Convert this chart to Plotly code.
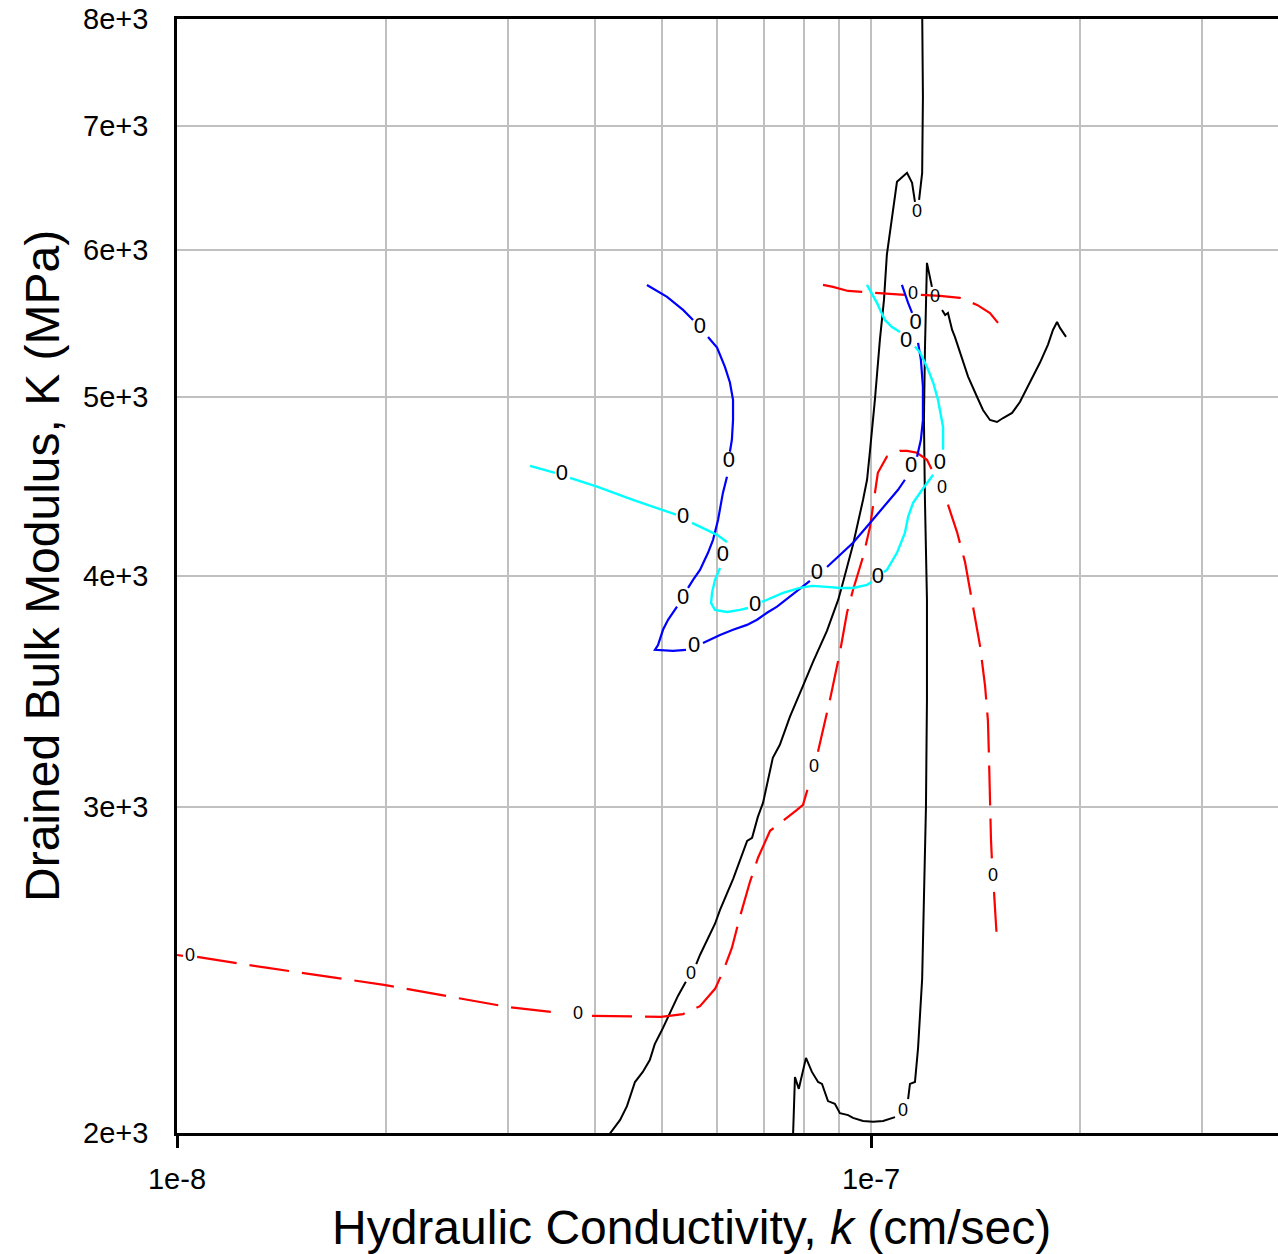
import plotly.graph_objects as go

# ---------------- data (k in cm/sec, K in MPa) ----------------
black_a_k = [4.17e-8, 4.35e-8, 4.45e-8, 4.57e-8, 4.69e-8, 4.80e-8, 4.88e-8, 5.00e-8, 5.27e-8, 5.41e-8, None,
             5.60e-8, 5.67e-8, 5.96e-8, 6.06e-8, 6.33e-8, 6.63e-8, 6.74e-8, 6.87e-8, 6.99e-8, 7.22e-8,
             7.39e-8, 7.64e-8, 7.98e-8, 8.25e-8, 8.64e-8, 8.97e-8, 9.11e-8, 9.42e-8, 9.74e-8, 9.87e-8,
             9.97e-8, 1.013e-7, 1.030e-7, 1.044e-7, 1.054e-7, 1.090e-7, 1.127e-7, 1.146e-7, 1.157e-7, None,
             1.173e-7, 1.185e-7, 1.188e-7, 1.185e-7]
black_a_K = [1990, 2033, 2068, 2131, 2158, 2190, 2234, 2274, 2372, 2414, None,
             2468, 2496, 2595, 2640, 2744, 2877, 2888, 2964, 3017, 3190,
             3242, 3357, 3489, 3595, 3736, 3884, 3967, 4159, 4398, 4509,
             4680, 4980, 5368, 5640, 5965, 6533, 6606, 6525, 6372, None,
             6388, 6606, 7262, 8100]

black_b_k = [7.72e-8, 7.77e-8, 7.87e-8, 8.06e-8, 8.22e-8, 8.39e-8, 8.50e-8, 8.67e-8, 8.87e-8, 9.02e-8,
             9.27e-8, 9.42e-8, 9.74e-8, 1.007e-7, 1.041e-7, 1.083e-7, None,
             1.131e-7, 1.138e-7, 1.157e-7, 1.169e-7, 1.185e-7, 1.192e-7, 1.200e-7, 1.204e-7, 1.204e-7,
             1.196e-7, 1.192e-7, 1.196e-7, 1.204e-7, 1.224e-7, None,
             1.266e-7, 1.279e-7, 1.291e-7, 1.309e-7, 1.321e-7, 1.343e-7, 1.380e-7, 1.422e-7, 1.450e-7,
             1.484e-7, 1.519e-7, 1.550e-7, 1.597e-7, 1.639e-7, 1.695e-7, 1.752e-7, 1.799e-7, 1.829e-7,
             1.854e-7, 1.872e-7, 1.910e-7]
black_b_K = [1990, 2144, 2113, 2196, 2158, 2131, 2126, 2081, 2074, 2050,
             2045, 2038, 2030, 2028, 2030, 2040, None,
             2086, 2126, 2131, 2223, 2423, 2640, 3000, 3429, 3884,
             4398, 4857, 5302, 5906, 5732, None,
             5570, 5535, 5549, 5433, 5386, 5282, 5127, 4998, 4918,
             4857, 4845, 4869, 4900, 4967, 5089, 5217, 5335, 5433,
             5487, 5447, 5386]

red_a_k = [1.000e-8, 1.020e-8, None, 1.069e-8, 1.352e-8, 1.987e-8, 3.009e-8, 3.587e-8, None,
           3.963e-8, 4.555e-8, 4.983e-8, 5.360e-8, 5.670e-8, 5.960e-8, 6.118e-8, 6.303e-8, 6.473e-8,
           6.693e-8, 6.874e-8, 7.154e-8, 7.443e-8, 7.822e-8, 7.980e-8, 8.139e-8, None,
           8.387e-8, 8.527e-8, 8.727e-8, 9.022e-8, 9.235e-8, 9.422e-8, 9.739e-8, 9.967e-8, 1.013e-7,
           1.023e-7, 1.054e-7, 1.101e-7, 1.127e-7, 1.165e-7, 1.204e-7, 1.229e-7, 1.241e-7, None,
           1.291e-7, 1.300e-7, 1.330e-7, 1.366e-7, 1.403e-7, 1.436e-7, 1.460e-7, 1.474e-7, 1.479e-7,
           1.484e-7, 1.489e-7, 1.494e-7, None, 1.504e-7, 1.509e-7, 1.519e-7]
red_a_K = [2496, 2493, None, 2490, 2456, 2405, 2339, 2322, None,
           2314, 2311, 2311, 2319, 2342, 2393, 2444, 2518, 2617,
           2734, 2817, 2913, 2946, 2990, 3009, 3085, None,
           3214, 3299, 3429, 3639, 3821, 3932, 4096, 4252, 4436,
           4548, 4640, 4674, 4674, 4663, 4622, 4548, 4520, None,
           4371, 4338, 4226, 4071, 3859, 3667, 3489, 3341, 3194,
           3013, 2881, 2803, None, 2700, 2650, 2540]

red_b_k = [8.527e-8, 8.815e-8, 9.266e-8, 1.054e-7, 1.119e-7, None, 1.180e-7, 1.257e-7, 1.343e-7,
           1.422e-7, 1.484e-7, 1.524e-7]
red_b_K = [5746, 5732, 5703, 5682, 5675, None, 5675, 5668, 5654, 5605, 5549, 5481]

blue_k = [4.755e-8, 5.083e-8, 5.360e-8, 5.541e-8, None,
          5.823e-8, 6.000e-8, 6.159e-8, 6.262e-8, 6.327e-8, 6.327e-8, 6.303e-8, 6.262e-8, None,
          6.201e-8, 6.118e-8, 6.020e-8, 5.921e-8, 5.823e-8, 5.670e-8, 5.541e-8, 5.450e-8, None,
          5.254e-8, 5.100e-8, 5.015e-8, 4.966e-8, 4.933e-8, 4.883e-8, 5.185e-8, 5.413e-8, None,
          5.727e-8, 6.060e-8, 6.327e-8, 6.627e-8, 6.851e-8, 7.082e-8, 7.322e-8, 7.643e-8, 7.980e-8,
          8.166e-8, None,
          8.643e-8, 9.022e-8, 9.422e-8, 9.967e-8, 1.054e-7, 1.094e-7, 1.119e-7, None,
          1.165e-7, 1.180e-7, 1.188e-7, 1.188e-7, 1.180e-7, 1.169e-7, None,
          1.146e-7, 1.131e-7, 1.108e-7]
blue_K = [5746, 5661, 5570, 5501, None,
          5386, 5315, 5189, 5089, 4980, 4857, 4739, 4669, None,
          4526, 4436, 4289, 4184, 4117, 4030, 3981, 3941, None,
          3850, 3788, 3741, 3694, 3671, 3649, 3644, 3649, None,
          3680, 3717, 3741, 3764, 3788, 3821, 3850, 3898, 3946,
          3976, None,
          4045, 4106, 4169, 4273, 4382, 4453, 4509, None,
          4640, 4739, 4857, 5063, 5236, 5346, None,
          5549, 5619, 5746]

cyan_k = [3.226e-8, 3.505e-8, None,
          3.684e-8, 4.029e-8, 4.540e-8, 5.015e-8, 5.237e-8, None,
          5.522e-8, 5.670e-8, 6.000e-8, 6.201e-8, None,
          6.060e-8, 5.960e-8, 5.901e-8, 5.882e-8, 5.960e-8, 6.201e-8, 6.473e-8, 6.649e-8, None,
          6.966e-8, 7.082e-8, 7.468e-8, 7.900e-8, 8.221e-8, 8.643e-8, 9.022e-8, 9.422e-8, 9.868e-8,
          1.003e-7, None,
          1.044e-7, 1.054e-7, 1.090e-7, 1.119e-7, 1.131e-7, 1.150e-7, 1.185e-7, 1.216e-7, 1.229e-7, None,
          1.270e-7, 1.270e-7, 1.249e-7, 1.229e-7, 1.204e-7, 1.177e-7, 1.157e-7, None,
          1.101e-7, 1.072e-7, 1.047e-7, 1.020e-7, 9.868e-8]
cyan_K = [4588, 4548, None,
          4520, 4470, 4398, 4344, 4317, None,
          4273, 4252, 4210, 4173, None,
          4040, 3981, 3917, 3868, 3835, 3825, 3835, 3844, None,
          3873, 3884, 3917, 3941, 3951, 3946, 3941, 3941, 3956,
          3971, None,
          4020, 4030, 4117, 4220, 4306, 4382, 4453, 4509, 4537, None,
          4680, 4815, 4980, 5089, 5189, 5282, 5322, None,
          5419, 5453, 5501, 5619, 5746]

# contour-level labels ("0") along each curve
black_lab_k = [5.503e-8, 1.165e-7, 1.112e-7, 1.237e-7]
black_lab_K = [2435, 6286, 2053, 5654]
red_lab_k = [1.044e-8, 3.783e-8, 8.276e-8, 1.266e-7, 1.499e-7, 1.150e-7]
red_lab_K = [2490, 2317, 3151, 4458, 2751, 5675]
blue_lab_k = [5.670e-8, 6.242e-8, 5.360e-8, 5.559e-8, 8.359e-8, 1.142e-7, 1.160e-7]
blue_lab_K = [5447, 4611, 3888, 3662, 4010, 4582, 5475]
cyan_lab_k = [3.587e-8, 5.360e-8, 6.118e-8, 6.806e-8, 1.023e-7, 1.257e-7, 1.124e-7]
cyan_lab_K = [4537, 4301, 4101, 3854, 3991, 4599, 5355]
level_text = "0"

x_tick_vals = [1e-8, 1e-7]
x_tick_text = ["1e-8", "1e-7"]
x_grid_vals = [2e-8, 3e-8, 4e-8, 5e-8, 6e-8, 7e-8, 8e-8, 9e-8, 2e-7, 3e-7]
y_tick_vals = [2000, 3000, 4000, 5000, 6000, 7000, 8000]
y_tick_text = ["2e+3", "3e+3", "4e+3", "5e+3", "6e+3", "7e+3", "8e+3"]

FONT = "Liberation Sans, Arial, sans-serif"

fig = go.Figure()

def add_line(xs, ys, color, dash=None, width=2):
    fig.add_trace(go.Scatter(x=xs, y=ys, mode="lines", connectgaps=False,
                             line=dict(color=color, width=width, dash=dash),
                             hoverinfo="skip", showlegend=False))

def add_labels(xs, ys, size):
    fig.add_trace(go.Scatter(x=xs, y=ys, mode="text", text=[level_text] * len(xs),
                             textposition="middle center",
                             textfont=dict(family=FONT, size=size, color="black"),
                             hoverinfo="skip", showlegend=False))

add_line(black_a_k, black_a_K, "black", width=2)
add_line(black_b_k, black_b_K, "black", width=2)
add_line(red_a_k, red_a_K, "#ff0000", dash="40px,13px", width=2.2)
add_line(red_b_k, red_b_K, "#ff0000", dash="40px,13px", width=2.2)
add_line(blue_k, blue_K, "#0000ff", width=2.2)
add_line(cyan_k, cyan_K, "#00ffff", width=2.4)

add_labels(black_lab_k, black_lab_K, 18)
add_labels(red_lab_k, red_lab_K, 18)
add_labels(blue_lab_k, blue_lab_K, 22)
add_labels(cyan_lab_k, cyan_lab_K, 22)

fig.update_layout(
    width=1278, height=1254,
    margin=dict(l=177, r=0, t=19, b=121, pad=0),
    paper_bgcolor="white", plot_bgcolor="white",
    font=dict(family=FONT, color="black"),
    xaxis=dict(type="log", range=[-8, -6.41354], showline=True, mirror=True,
               linecolor="black", linewidth=3,
               tickvals=x_tick_vals, ticktext=x_tick_text,
               ticks="outside", ticklen=12, tickwidth=3, tickcolor="black",
               tickfont=dict(family=FONT, size=29, color="black"),
               ticklabelstandoff=6,
               showgrid=True, gridcolor="#c0c0c0", gridwidth=2, zeroline=False,
               minor=dict(tickvals=x_grid_vals, showgrid=True, gridcolor="#c0c0c0",
                          gridwidth=2, ticks="")),
    yaxis=dict(type="log", range=[3.30103, 3.90309], showline=True, mirror=False,
               linecolor="black", linewidth=2.5,
               tickvals=y_tick_vals, ticktext=y_tick_text, ticks="",
               tickfont=dict(family=FONT, size=29, color="black"),
               ticklabelstandoff=20,
               showgrid=True, gridcolor="#c0c0c0", gridwidth=2, zeroline=False),
    annotations=[
        dict(text="Hydraulic Conductivity, <i>k</i> (cm/sec)", xref="paper", yref="paper",
             x=(691.5 - 177) / 1101, y=(1133 - 1227) / 1114, xanchor="center", yanchor="middle",
             showarrow=False, font=dict(family=FONT, size=48, color="black")),
        dict(text="Drained Bulk Modulus, K (MPa)", xref="paper", yref="paper",
             x=(42 - 177) / 1101, y=(1133 - 566) / 1114, xanchor="center", yanchor="middle",
             textangle=-90, showarrow=False, font=dict(family=FONT, size=48, color="black")),
    ],
)

fig.write_html("out.html")
